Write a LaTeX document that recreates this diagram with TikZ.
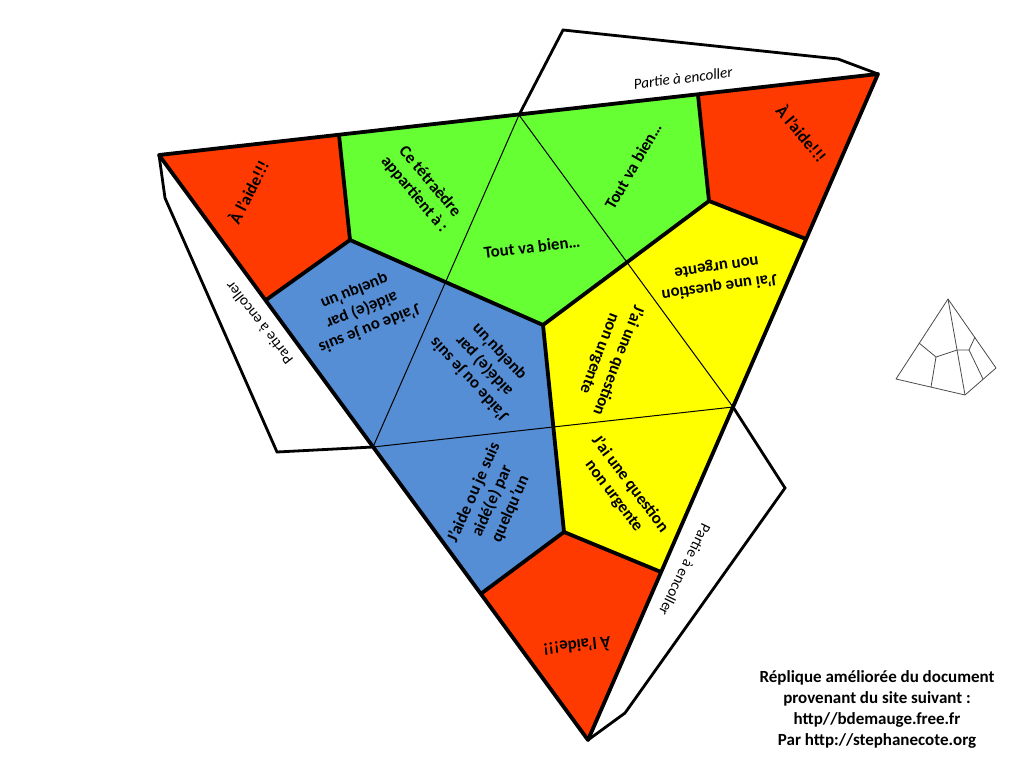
\documentclass[tikz,border=0pt]{standalone}
\usepackage{fontspec}
\setmainfont{Carlito}
\definecolor{cRed}{HTML}{FF3A00}
\definecolor{cGreen}{HTML}{66FF33}
\definecolor{cYellow}{HTML}{FFFF00}
\definecolor{cBlue}{HTML}{558ED5}
\definecolor{cSmall}{HTML}{4A4A4A}
\tikzset{
  facered/.style={fill=cRed},
  facegreen/.style={fill=cGreen},
  faceyellow/.style={fill=cYellow},
  faceblue/.style={fill=cBlue},
  heavy/.style={draw=black,line width=3.8pt,line join=round,line cap=round},
  tabline/.style={draw=black,line width=2.8pt,line join=miter},
  foldline/.style={draw=black,line width=1pt},
  smalline/.style={draw=cSmall,line width=0.8pt,line join=round},
  lbl/.style={font=\fontsize{16.8}{20}\selectfont\bfseries,align=center,inner sep=0pt,text=black},
  tablbl/.style={font=\fontsize{15.2}{18}\selectfont,inner sep=0pt,text=black},
  credit/.style={font=\fontsize{17}{21}\selectfont\bfseries,align=center,inner sep=0pt,text=black}
}
\begin{document}
\begin{tikzpicture}[x=1pt,y=-1pt]
\useasboundingbox (0,0) rectangle (1024,768);
% corners
\coordinate (A) at (159,155);
\coordinate (B) at (878,74);
\coordinate (C) at (588,740);
\coordinate (mAB) at (519,115);
\coordinate (mBC) at (733,407);
\coordinate (mAC) at (373,447);
\coordinate (p1) at (339,135);
\coordinate (p3) at (698,95);
\coordinate (r) at (806,239);
\coordinate (s) at (266,300);
\coordinate (t) at (661,572);
\coordinate (u) at (482,593);
\coordinate (q1) at (350,240);
\coordinate (q2) at (543,325);
\coordinate (q3) at (709,201);
\coordinate (q4) at (564,532);
\coordinate (t1) at (563,30);
\coordinate (t2) at (838,59);
\coordinate (l1) at (165,198);
\coordinate (l2) at (277,452);
\coordinate (b1) at (785,488);
\coordinate (b2) at (625,713);
% glue tabs
\path[tabline] (mAB) -- (t1) -- (t2) -- (B);
\path[tabline] (A) -- (l1) -- (l2) -- (mAC);
\path[tabline] (mBC) -- (b1) -- (b2) -- (C);
% coloured faces
\path[facered] (A) -- (p1) -- (q1) -- (s) -- cycle;
\path[facered] (p3) -- (B) -- (r) -- (q3) -- cycle;
\path[facered] (q4) -- (t) -- (C) -- (u) -- cycle;
\path[facegreen] (p1) -- (p3) -- (q3) -- (q2) -- (q1) -- cycle;
\path[faceyellow] (q2) -- (q3) -- (r) -- (t) -- (q4) -- cycle;
\path[faceblue] (q1) -- (q2) -- (q4) -- (u) -- (s) -- cycle;
% fold lines
\draw[foldline] (mAB) -- (mAC);
\draw[foldline] (mAB) -- (mBC);
\draw[foldline] (mAC) -- (mBC);
% heavy lines
\draw[heavy] (A) -- (B) -- (C) -- cycle;
\draw[heavy] (p1) -- (q1) -- (s);
\draw[heavy] (q1) -- (q2) -- (q3) -- (p3);
\draw[heavy] (q3) -- (r);
\draw[heavy] (q2) -- (q4) -- (u);
\draw[heavy] (q4) -- (t);
% labels
\node[lbl,rotate=63] (n1) at (248,192) {À l'aide!!!};
\node[lbl,rotate=-50] (n2) at (422,188) {Ce tétraèdre\\appartient à :};
\node[lbl,rotate=7] (n3) at (532,247) {Tout va bien…};
\node[lbl,rotate=60] (n4) at (633,166) {Tout va bien…};
\node[lbl,rotate=-50] (n5) at (802,133) {À l'aide!!!};
\node[lbl,rotate=188] (n6) at (718,277) {J'ai une question\\non urgente};
\node[lbl,rotate=249] (n7) at (609,357) {J'ai une question\\non urgente};
\node[lbl,rotate=-53] (n8) at (622,490) {J'ai une question\\non urgente};
\node[lbl,rotate=186] (n9) at (577,647) {À l'aide!!!};
\node[lbl,rotate=66] (n10) at (492,501) {J'aide ou je suis\\aidé(e) par\\quelqu'un};
\node[lbl,rotate=202] (n11) at (362,310) {J'aide ou je suis\\aidé(e) par\\quelqu'un};
\node[lbl,rotate=133] (n12) at (484,366) {J'aide ou je suis\\aidé(e) par\\quelqu'un};
\node[tablbl,rotate=7] (n13) at (683,78) {\itshape Partie à encoller};
\node[tablbl,rotate=128] (n14) at (259,323) {Partie à encoller};
\node[tablbl,rotate=244] (n15) at (685,570) {Partie à encoller};
\node[credit] (n16) at (877,709) {Réplique améliorée du document\\provenant du site suivant :\\http//bdemauge.free.fr\\Par http://stephanecote.org};
% small tetrahedron
\coordinate (ha) at (948,299);
\coordinate (hl) at (896,379);
\coordinate (hb) at (965,395);
\coordinate (hr) at (996,368);
\coordinate (h1) at (919,343);
\coordinate (h2) at (936,357);
\coordinate (h3) at (957,350);
\coordinate (h4) at (969,350);
\coordinate (h5) at (975,337);
\coordinate (h6) at (931,387);
\coordinate (h7) at (983,379);
\draw[smalline] (ha) -- (hl) -- (hb) -- (hr) -- cycle;
\draw[smalline] (ha) -- (hb);
\draw[smalline] (h1) -- (h2) -- (h3) -- (h4) -- (h5);
\draw[smalline] (h2) -- (h6);
\draw[smalline] (h4) -- (h7);
\end{tikzpicture}
\end{document}
